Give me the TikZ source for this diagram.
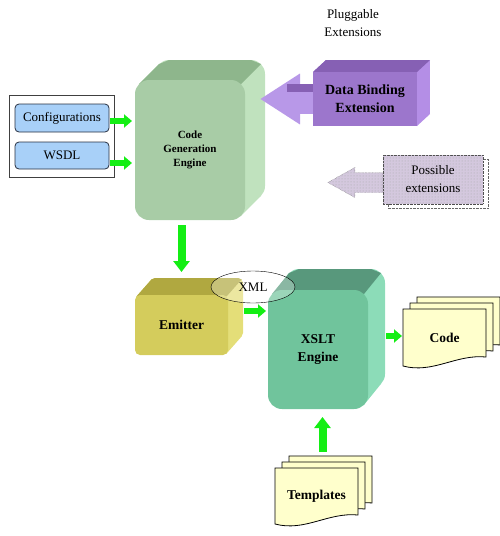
\documentclass[tikz,border=0pt]{standalone}
\usepackage{fontspec}
\setmainfont{Liberation Serif}
\usetikzlibrary{positioning,calc,fit,shapes.geometric,arrows.meta,backgrounds,patterns}

\definecolor{flowgreen}{RGB}{20,238,20}
\definecolor{inblue}{RGB}{168,208,248}
\definecolor{inline}{RGB}{40,48,64}
\definecolor{cgefront}{RGB}{168,204,166}
\definecolor{cgetop}{RGB}{142,182,140}
\definecolor{cgeside}{RGB}{192,226,190}
\definecolor{dbfront}{RGB}{156,118,204}
\definecolor{dbtop}{RGB}{134,96,180}
\definecolor{dbside}{RGB}{180,142,230}
\definecolor{dbarrow}{RGB}{184,152,232}
\definecolor{possfill}{RGB}{212,200,222}
\definecolor{emfront}{RGB}{212,204,92}
\definecolor{emtop}{RGB}{176,168,64}
\definecolor{emside}{RGB}{228,222,120}
\definecolor{xsfront}{RGB}{112,196,156}
\definecolor{xstop}{RGB}{88,152,124}
\definecolor{xsside}{RGB}{140,220,184}
\definecolor{docfill}{RGB}{255,255,204}

% depth of a box drawn behind its front face
\newcommand{\cuboid}[6]{% front node, depth x, depth y, radius, top, side
  \begin{pgfonlayer}{background}
    \fill[#6, rounded corners=#4pt] ($(#1.north west)+(#2,#3)$) rectangle ($(#1.south east)+(#2,#3)$);
    \fill[#6] ($(#1.north west)+(.29*#4,.29*#4)$) -- ($(#1.north west)+(#2,#3)+(.29*#4,.29*#4)$)
      -- ($(#1.south east)+(#2,#3)+(-.29*#4,-.29*#4)$) -- ($(#1.south east)+(-.29*#4,-.29*#4)$) -- cycle;
    \fill[#5] ($(#1.north west)+(.29*#4,.29*#4)$) -- ($(#1.north west)+(#2,#3)+(.29*#4,.29*#4)$)
      -- ($(#1.north west)+(#2,#3)+(#4,0)$) -- ($(#1.north east)+(#2,#3)+(-#4,0)$)
      -- ($(#1.north east)+(#2,#3)+(-.29*#4,.29*#4)$) -- ($(#1.north east)+(-.29*#4,.29*#4)$) -- cycle;
  \end{pgfonlayer}}

% three stacked pages behind a document node
\newcommand{\docstack}[1]{%
  \begin{pgfonlayer}{background}
    \foreach \s in {14,7,0} {
      \filldraw[docpage] ($(#1.north west)+(\s,-0.86*\s)$) -- ($(#1.north east)+(\s,-0.86*\s)$)
        -- ($(#1.south east)+(\s,-0.86*\s)+(0,-9)$)
        .. controls ($(#1.south east)+(\s,-0.86*\s)+(-30,-12)$) and ($(#1.south west)+(\s,-0.86*\s)+(30,8)$)
        .. ($(#1.south west)+(\s,-0.86*\s)$) -- cycle;
    }
  \end{pgfonlayer}}

\tikzset{
  txt/.style={font=\fontsize{13}{18}\selectfont, align=center},
  inbox/.style={draw=inline, line width=0.8pt, fill=inblue, rounded corners=4pt,
    minimum width=94pt, font=\fontsize{13}{15}\selectfont},
  cubeface/.style={outer sep=0pt, inner sep=2pt, align=center,
    font=\fontsize{13.5}{18}\selectfont\bfseries},
  docnode/.style={outer sep=0pt, font=\fontsize{13.5}{16}\selectfont\bfseries},
  docpage/.style={fill=docfill, draw=black, line width=0.8pt},
  flow/.style={draw=flowgreen, line width=6pt, -{Triangle[length=8pt,width=13pt]}},
  bigflow/.style={draw=flowgreen, line width=8pt, -{Triangle[length=11pt,width=16pt]}},
  dbflow/.style={draw=dbarrow, line width=30pt, -{Triangle[length=40pt,width=48pt]}},
  possbox/.style={fill=possfill, postaction={pattern=dots, pattern color=gray!70},
    draw=black!70, densely dotted, minimum width=100pt, minimum height=49pt},
}

\begin{document}
\begin{tikzpicture}[x=1pt, y=-1pt]
  \useasboundingbox (0,0) rectangle (500,536);

  % inputs
  \node[inbox, minimum height=28pt] (cfg) at (62,118) {Configurations};
  \node[inbox, minimum height=27pt] (wsdl) at (62,155.5) {WSDL};
  \node[draw=black!75, line width=1pt, fit=(cfg)(wsdl), inner xsep=5.5pt, inner ysep=8.5pt] (inputs) {};

  % code generation engine
  \node[cubeface, fill=cgefront, rounded corners=14pt, minimum width=110pt, minimum height=140pt,
    font=\fontsize{11}{14}\selectfont\bfseries] (cge) at (190,150) {Code\\Generation\\Engine};
  \cuboid{cge}{20}{-20}{14}{cgetop}{cgeside}

  \draw[flow, shorten >=3pt, shorten <=1pt] ($(cfg.east)+(0,3)$) -- ($(cfg.east -| cge.west)+(0,3)$);
  \draw[flow, shorten >=3pt, shorten <=1pt] ($(wsdl.east)+(0,7.5)$) -- ($(wsdl.east -| cge.west)+(0,7.5)$);

  % extensions
  \node[txt] (plug) at (353,23) {Pluggable\\Extensions};

  \node[cubeface, fill=dbfront, minimum width=104pt, minimum height=54pt,
    font=\fontsize{14}{18}\selectfont\bfseries] (db) at (365,99) {Data Binding\\Extension};
  \cuboid{db}{13}{-12}{0}{dbtop}{dbside}
  \coordinate (dbtip) at ($(cge.east)+(15,-51)$);
  \draw[dbflow] (db.west) -- (dbtip);
  \fill[dbtop] ($(db.west)+(-26,-15)$) rectangle ($(db.west)+(0,-7)$);

  \node[possbox, txt] (poss) at (433,179.5) {Possible\\extensions};
  \coordinate (posstip) at ($(poss.west)+(-55,3)$);
  \begin{pgfonlayer}{background}
    \draw[black!60, densely dotted, fill=white] ($(poss.north west)+(5,4)$) rectangle ($(poss.south east)+(5,4)$);
    \filldraw[possfill, postaction={pattern=dots, pattern color=gray!70}, draw=black!60, densely dotted]
      (posstip) -- ($(poss.west)+(-28,-12)$) -- ($(poss.west)+(-28,-7)$) -- ($(poss.west)+(0,-7)$)
      -- ($(poss.west)+(0,13)$) -- ($(poss.west)+(-28,13)$) -- ($(poss.west)+(-28,18)$) -- cycle;
  \end{pgfonlayer}

  % emitter and xslt engine
  \node[cubeface, fill=emfront, rounded corners=5pt, minimum width=93pt, minimum height=60pt] (em) at (181.5,325) {Emitter};
  \cuboid{em}{15}{-17}{5}{emtop}{emside}
  \draw[bigflow] ($(cge.south -| em.north)+(0,5)$) -- ($(em.north)+(0,-23)$);

  \node[cubeface, fill=xsfront, rounded corners=14pt, minimum width=100pt, minimum height=119pt] (xslt) at (318,349.5) {XSLT\\Engine};
  \cuboid{xslt}{17}{-21}{14}{xstop}{xsside}
  \draw[flow, shorten >=2pt] ($(em.east)+(16,-14)$) -- ($(em.east -| xslt.west)+(0,-14)$);

  \node[draw=black, ellipse, fill=white, fill opacity=0.3, text opacity=1, minimum width=84pt, minimum height=32pt,
    font=\fontsize{13}{15}\selectfont] (xml) at (253,287) {XML};

  % outputs and templates
  \node[docnode, minimum width=83pt, minimum height=57pt] (code) at (444.5,337.5) {Code};
  \docstack{code}
  \draw[flow, shorten >=1pt] ($(xslt.east)+(18,-13.5)$) -- ($(code.west)+(0,-1.5)$);

  \node[docnode, minimum width=83pt, minimum height=56pt] (tpl) at (316.5,496) {Templates};
  \docstack{tpl}
  \draw[bigflow] ($(tpl.north)+(6,-16)$) -- ($(xslt.south)+(4.5,8)$);
\end{tikzpicture}
\end{document}
